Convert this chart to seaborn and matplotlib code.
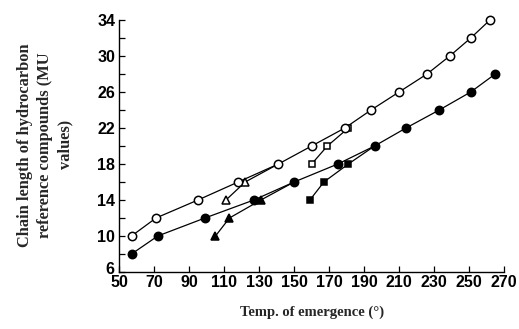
import matplotlib
matplotlib.use("Agg")
import matplotlib.pyplot as plt
import seaborn as sns
import pandas as pd
from matplotlib.ticker import MultipleLocator
from matplotlib.transforms import ScaledTranslation

# Data
open_circle_x = [57, 71, 95, 118, 141, 160, 179, 194, 210, 226, 239, 251, 262]
open_circle_y = [10, 12, 14, 16, 18, 20, 22, 24, 26, 28, 30, 32, 34]
filled_circle_x = [57, 72, 99, 127, 150, 175, 196, 214, 233, 251, 265]
filled_circle_y = [8, 10, 12, 14, 16, 18, 20, 22, 24, 26, 28]
open_triangle_x = [111, 122, 141]
open_triangle_y = [14, 16, 18]
filled_triangle_x = [105, 113, 131, 150]
filled_triangle_y = [10, 12, 14, 16]
open_square_x = [160, 169, 181]
open_square_y = [18, 20, 22]
filled_square_x = [159, 167, 181, 196]
filled_square_y = [14, 16, 18, 20]

x_ticks = [50, 70, 90, 110, 130, 150, 170, 190, 210, 230, 250, 270]
y_ticks = [6, 10, 14, 18, 22, 26, 30, 34]

sns.set_theme(style="ticks")
plt.rcParams['font.family'] = ['Liberation Serif', 'DejaVu Serif']

fig = plt.figure(figsize=(5.19, 3.29), dpi=100)
ax = fig.add_axes([0.2299, 0.1733, 0.7412, 0.7660])

series = [
    (open_triangle_x, open_triangle_y, "^", "white", 5.5, "open_tri"),
    (filled_triangle_x, filled_triangle_y, "^", "black", 5.5, "filled_tri"),
    (open_square_x, open_square_y, "s", "white", 5.0, "open_sq"),
    (filled_square_x, filled_square_y, "s", "black", 5.0, "filled_sq"),
    (open_circle_x, open_circle_y, "o", "white", 6.0, "open_c"),
    (filled_circle_x, filled_circle_y, "o", "black", 6.0, "filled_c"),
]

for xs, ys, mk, fc, ms, name in series:
    df = pd.DataFrame({"x": xs, "y": ys})
    sns.lineplot(data=df, x="x", y="y", ax=ax, color="black", linewidth=0.9,
                 marker=None, sort=False, legend=False)
    n = len(xs)
    if name in ("open_tri", "filled_tri", "filled_sq"):
        mdf = df.iloc[:n - 1]
    else:
        mdf = df
    ax.plot(mdf["x"], mdf["y"], linestyle="none", marker=mk, markersize=ms,
            markerfacecolor=fc, markeredgecolor="black", markeredgewidth=1.1,
            zorder=3, clip_on=False)

ax.set_xlim(50, 270)
ax.set_ylim(6, 34)
ax.set_xticks(x_ticks)
ax.set_xticklabels([str(t) for t in x_ticks])
ax.set_yticks(y_ticks)
ax.set_yticklabels([str(t) for t in y_ticks])
ax.yaxis.set_minor_locator(MultipleLocator(2))

for s in ("top", "right"):
    ax.spines[s].set_visible(False)
for s in ("left", "bottom"):
    ax.spines[s].set_color("black")
    ax.spines[s].set_linewidth(1.0)

ax.tick_params(axis="both", which="major", direction="in", length=4, width=0.9,
               colors="black", labelsize=11.5, pad=3)
ax.tick_params(axis="y", which="minor", direction="in", length=4, width=0.9, colors="black")
ax.tick_params(axis="x", pad=2)
for lab in ax.get_xticklabels() + ax.get_yticklabels():
    lab.set_fontweight("bold")
    lab.set_family(["Liberation Sans Narrow", "Liberation Sans", "DejaVu Sans"])

# lift the "6" label slightly, like the reference
ylabs = ax.get_yticklabels()
ylabs[0].set_transform(ylabs[0].get_transform() + ScaledTranslation(-1 / 100, 4 / 100, fig.dpi_scale_trans))

ax.set_xlabel("Temp. of emergence (°)", fontsize=10.5, fontweight="bold", va="center")
ax.xaxis.set_label_coords(0.5, -0.159)
ax.set_ylabel("Chain length of hydrocarbon\nreference compounds (MU\nvalues)",
              fontsize=11.8, fontweight="bold", linespacing=1.33, va="center")
ax.yaxis.set_label_coords(-0.193, 0.505)
ax.grid(False)

fig.savefig("out.png", dpi=100, facecolor="white")
